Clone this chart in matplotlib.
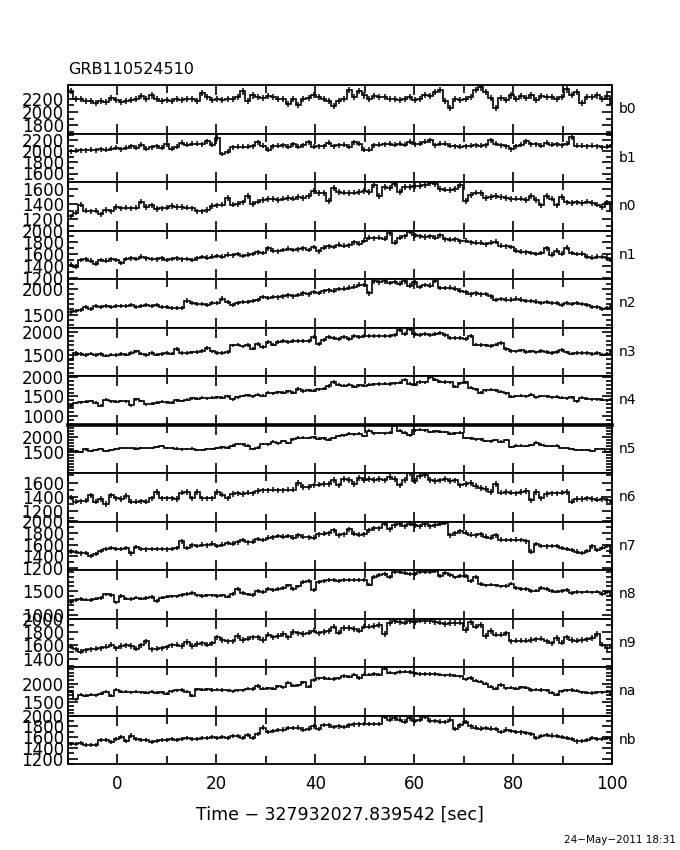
import numpy as np
import matplotlib
matplotlib.use("Agg")
import matplotlib.pyplot as plt
from matplotlib.ticker import FixedLocator, MultipleLocator

# ---------------- data ----------------
title = "GRB110524510"
xlabel = "Time \u2212 327932027.839542 [sec]"
datestamp = "24\u2212May\u22122011 18:31"
t_start = -10.0
bin_width = 1.024
x_ticks = [0, 20, 40, 60, 80, 100]

detectors = ["b0", "b1", "n0", "n1", "n2", "n3", "n4", "n5",
             "n6", "n7", "n8", "n9", "na", "nb"]

b0 = [2320, 2200, 2190, 2170, 2160, 2130, 2170, 2150, 2210, 2180,
      2150, 2170, 2180, 2200, 2240, 2190, 2250, 2200, 2160, 2180,
      2170, 2190, 2180, 2190, 2200, 2170, 2290, 2220, 2180, 2200,
      2180, 2200, 2190, 2220, 2310, 2160, 2250, 2230, 2210, 2240,
      2230, 2200, 2200, 2120, 2190, 2110, 2200, 2210, 2260, 2230,
      2200, 2170, 2090, 2160, 2190, 2330, 2220, 2320, 2250, 2200,
      2240, 2220, 2230, 2200, 2190, 2180, 2200, 2220, 2180, 2200,
      2260, 2240, 2300, 2330, 2160, 2060, 2200, 2180, 2200, 2220,
      2330, 2370, 2300, 2210, 2060, 2210, 2180, 2250, 2200, 2240,
      2210, 2250, 2180, 2240, 2220, 2230, 2200, 2220, 2340, 2260,
      2300, 2130, 2220, 2230, 2250, 2200, 2240, 2120]
b1 = [2000, 2010, 2020, 2020, 2030, 2020, 2040, 2030, 2050, 2060,
      2040, 2060, 2090, 2060, 2120, 2050, 2070, 2090, 2060, 2130,
      2050, 2080, 2150, 2120, 2140, 2140, 2130, 2180, 2120, 2240,
      1950, 1990, 2070, 2080, 2080, 2080, 2090, 2160, 2100, 2030,
      2090, 2100, 2110, 2080, 2130, 2080, 2110, 2160, 2080, 2090,
      2090, 2150, 2090, 2110, 2120, 2080, 2160, 2140, 2030, 2030,
      2110, 2120, 2130, 2140, 2120, 2140, 2120, 2170, 2130, 2140,
      2170, 2200, 2110, 2140, 2140, 2100, 2090, 2080, 2090, 2100,
      2110, 2100, 2110, 2200, 2140, 2110, 2090, 2040, 2090, 2120,
      2180, 2130, 2130, 2100, 2150, 2120, 2130, 2110, 2140, 2250,
      2100, 2100, 2090, 2100, 2090, 2070, 2080, 2110]
n0 = [1236, 1280, 1390, 1310, 1300, 1310, 1260, 1320, 1300, 1360,
      1340, 1350, 1340, 1350, 1430, 1360, 1380, 1330, 1340, 1350,
      1370, 1360, 1360, 1350, 1340, 1300, 1300, 1320, 1370, 1380,
      1390, 1480, 1390, 1400, 1420, 1500, 1400, 1430, 1450, 1460,
      1460, 1450, 1470, 1480, 1470, 1490, 1480, 1500, 1570, 1540,
      1540, 1440, 1610, 1560, 1550, 1540, 1550, 1560, 1570, 1560,
      1650, 1500, 1620, 1610, 1660, 1560, 1630, 1620, 1640, 1640,
      1650, 1680, 1660, 1600, 1590, 1580, 1600, 1650, 1440, 1520,
      1550, 1540, 1480, 1490, 1500, 1490, 1480, 1460, 1470, 1470,
      1450, 1500, 1450, 1380, 1500, 1470, 1380, 1490, 1420, 1410,
      1420, 1410, 1430, 1410, 1390, 1360, 1420, 1300]
n1 = [1425, 1390, 1500, 1510, 1490, 1440, 1500, 1490, 1510, 1500,
      1450, 1520, 1530, 1520, 1560, 1530, 1520, 1510, 1530, 1500,
      1520, 1530, 1510, 1520, 1500, 1530, 1550, 1540, 1560, 1570,
      1560, 1590, 1580, 1600, 1570, 1590, 1600, 1630, 1620, 1700,
      1660, 1650, 1670, 1690, 1670, 1680, 1700, 1670, 1720, 1650,
      1710, 1730, 1720, 1760, 1740, 1750, 1800, 1780, 1830, 1880,
      1870, 1880, 1860, 1950, 1790, 1880, 1900, 1980, 1920, 1900,
      1890, 1900, 1880, 1920, 1850, 1840, 1850, 1820, 1830, 1800,
      1790, 1790, 1770, 1790, 1810, 1740, 1730, 1720, 1660, 1640,
      1630, 1620, 1600, 1620, 1700, 1590, 1660, 1610, 1710, 1620,
      1600, 1610, 1560, 1540, 1560, 1550, 1540, 1480]
n2 = [1550, 1560, 1580, 1640, 1610, 1660, 1640, 1660, 1650, 1660,
      1670, 1660, 1680, 1650, 1670, 1680, 1660, 1690, 1650, 1640,
      1620, 1630, 1630, 1770, 1720, 1710, 1700, 1690, 1730, 1720,
      1810, 1740, 1690, 1730, 1740, 1740, 1760, 1780, 1840, 1820,
      1840, 1830, 1850, 1870, 1850, 1880, 1910, 1890, 1940, 1920,
      1950, 1970, 1960, 1990, 2000, 2020, 2040, 2080, 2070, 1910,
      2140, 2120, 2140, 2110, 2130, 2100, 2140, 2060, 2120, 2030,
      2070, 2060, 2150, 2010, 2010, 2020, 2000, 1960, 1930, 1890,
      1910, 1890, 1900, 1850, 1780, 1800, 1790, 1790, 1810, 1790,
      1760, 1760, 1750, 1730, 1740, 1720, 1730, 1690, 1730, 1700,
      1720, 1710, 1680, 1640, 1650, 1610, 1620, 1660]
n3 = [1390, 1540, 1510, 1490, 1520, 1490, 1510, 1480, 1500, 1490,
      1510, 1500, 1540, 1570, 1520, 1490, 1530, 1500, 1510, 1540,
      1520, 1620, 1540, 1530, 1550, 1560, 1580, 1640, 1570, 1540,
      1540, 1560, 1700, 1720, 1680, 1710, 1630, 1740, 1660, 1770,
      1720, 1780, 1790, 1780, 1800, 1790, 1800, 1800, 1880, 1730,
      1820, 1880, 1860, 1850, 1880, 1850, 1910, 1880, 1900, 1900,
      1910, 1900, 1910, 1900, 1920, 2030, 1960, 2060, 1950, 1920,
      1960, 1940, 1950, 1980, 1930, 1860, 1870, 1860, 1850, 1900,
      1720, 1710, 1700, 1690, 1720, 1760, 1620, 1580, 1570, 1590,
      1560, 1570, 1550, 1580, 1560, 1540, 1560, 1600, 1550, 1520,
      1530, 1540, 1530, 1510, 1540, 1500, 1520, 1580]
n4 = [1260, 1330, 1350, 1360, 1380, 1340, 1260, 1410, 1370, 1360,
      1380, 1370, 1270, 1420, 1380, 1300, 1310, 1340, 1360, 1350,
      1340, 1400, 1380, 1410, 1450, 1440, 1460, 1450, 1470, 1480,
      1460, 1500, 1420, 1480, 1510, 1530, 1500, 1540, 1520, 1590,
      1580, 1610, 1600, 1630, 1590, 1690, 1640, 1660, 1650, 1680,
      1700, 1770, 1870, 1800, 1780, 1800, 1750, 1790, 1780, 1800,
      1810, 1820, 1830, 1820, 1840, 1850, 1930, 1830, 1800, 1870,
      1860, 1990, 1930, 1880, 1870, 1860, 1750, 1840, 1860, 1720,
      1680, 1600, 1660, 1670, 1660, 1620, 1580, 1490, 1510, 1520,
      1500, 1540, 1480, 1510, 1500, 1480, 1490, 1470, 1450, 1480,
      1370, 1460, 1440, 1430, 1420, 1410, 1400, 1420]
n5 = [1550, 1520, 1500, 1590, 1540, 1560, 1610, 1530, 1560, 1600,
      1640, 1640, 1630, 1620, 1640, 1630, 1640, 1680, 1700, 1640,
      1630, 1620, 1590, 1600, 1620, 1580, 1560, 1610, 1600, 1640,
      1660, 1650, 1720, 1780, 1760, 1720, 1600, 1650, 1770, 1760,
      1850, 1790, 1870, 1800, 1930, 1990, 1990, 1980, 2000, 1950,
      1960, 1920, 1970, 2040, 2070, 2120, 2100, 2120, 2040, 2220,
      2130, 2140, 2130, 2150, 2400, 2220, 2160, 2060, 2240, 2250,
      2230, 2180, 2200, 2190, 2180, 2120, 2130, 2150, 1980, 1960,
      1930, 1930, 1880, 1860, 1900, 1850, 1900, 1680, 1720, 1720,
      1700, 1740, 1820, 1750, 1710, 1700, 1720, 1630, 1640, 1610,
      1560, 1570, 1580, 1540, 1600, 1610, 1500, 1540]
n6 = [1390, 1330, 1340, 1345, 1420, 1330, 1370, 1300, 1420, 1380,
      1370, 1410, 1330, 1330, 1340, 1330, 1380, 1470, 1380, 1380,
      1380, 1370, 1460, 1470, 1380, 1470, 1380, 1380, 1380, 1470,
      1430, 1380, 1440, 1450, 1440, 1460, 1450, 1480, 1490, 1490,
      1500, 1490, 1490, 1500, 1500, 1590, 1540, 1540, 1560, 1570,
      1580, 1580, 1640, 1560, 1650, 1640, 1580, 1660, 1640, 1650,
      1640, 1650, 1630, 1680, 1650, 1560, 1640, 1730, 1620, 1690,
      1700, 1640, 1620, 1630, 1650, 1620, 1630, 1560, 1580, 1590,
      1550, 1520, 1510, 1470, 1580, 1460, 1470, 1460, 1450, 1470,
      1480, 1350, 1470, 1380, 1440, 1450, 1450, 1460, 1470, 1330,
      1370, 1370, 1380, 1370, 1360, 1370, 1350, 1330]
n7 = [1480, 1470, 1450, 1460, 1410, 1440, 1490, 1530, 1540, 1530,
      1530, 1540, 1450, 1560, 1530, 1520, 1530, 1530, 1530, 1520,
      1530, 1540, 1660, 1540, 1590, 1580, 1600, 1590, 1620, 1580,
      1600, 1630, 1620, 1640, 1680, 1640, 1650, 1700, 1680, 1720,
      1730, 1750, 1740, 1750, 1720, 1760, 1740, 1730, 1720, 1780,
      1790, 1800, 1850, 1760, 1780, 1870, 1790, 1770, 1780, 1850,
      1880, 1880, 1960, 1870, 1940, 1950, 1920, 1960, 1940, 1920,
      1950, 1920, 1940, 1960, 1980, 1760, 1800, 1830, 1810, 1770,
      1760, 1780, 1740, 1720, 1760, 1690, 1680, 1680, 1690, 1680,
      1660, 1480, 1610, 1580, 1570, 1580, 1580, 1540, 1530, 1510,
      1480, 1460, 1490, 1570, 1510, 1540, 1580, 1460]
n8 = [1265, 1310, 1330, 1320, 1310, 1340, 1350, 1430, 1420, 1260,
      1400, 1340, 1330, 1360, 1340, 1350, 1370, 1290, 1360, 1380,
      1390, 1390, 1420, 1440, 1460, 1410, 1400, 1410, 1410, 1400,
      1410, 1380, 1440, 1550, 1460, 1430, 1420, 1500, 1480, 1540,
      1520, 1540, 1560, 1620, 1550, 1600, 1690, 1710, 1520, 1700,
      1720, 1730, 1740, 1710, 1740, 1740, 1740, 1740, 1730, 1640,
      1810, 1840, 1870, 1800, 1900, 1900, 1890, 1870, 1870, 1900,
      1910, 1900, 1920, 1820, 1880, 1840, 1790, 1820, 1830, 1710,
      1800, 1650, 1620, 1640, 1620, 1600, 1610, 1660, 1560, 1550,
      1540, 1500, 1510, 1560, 1540, 1500, 1490, 1500, 1520, 1460,
      1480, 1470, 1490, 1470, 1490, 1440, 1470, 1400]
n9 = [1580, 1540, 1510, 1530, 1540, 1550, 1560, 1580, 1610, 1560,
      1590, 1600, 1590, 1550, 1600, 1660, 1540, 1550, 1560, 1570,
      1600, 1610, 1590, 1650, 1590, 1620, 1630, 1610, 1630, 1720,
      1680, 1660, 1660, 1740, 1680, 1700, 1720, 1720, 1680, 1760,
      1720, 1740, 1770, 1720, 1800, 1780, 1770, 1790, 1820, 1780,
      1800, 1810, 1880, 1790, 1860, 1860, 1840, 1820, 1880, 1880,
      1890, 1900, 1770, 1930, 1960, 1950, 1940, 1960, 1950, 1970,
      1960, 1960, 1950, 1940, 1920, 1930, 1930, 1940, 1830, 1950,
      1880, 1900, 1740, 1810, 1760, 1760, 1780, 1660, 1670, 1670,
      1670, 1680, 1690, 1700, 1660, 1630, 1710, 1640, 1720, 1680,
      1670, 1680, 1690, 1710, 1770, 1610, 1560, 1600]
na = [1790, 1580, 1700, 1680, 1700, 1690, 1730, 1780, 1680, 1840,
      1780, 1780, 1770, 1780, 1770, 1760, 1780, 1760, 1770, 1730,
      1800, 1820, 1830, 1780, 1680, 1850, 1840, 1850, 1830, 1840,
      1830, 1820, 1800, 1820, 1820, 1870, 1860, 1940, 1870, 1880,
      1870, 1930, 1910, 2030, 1950, 1960, 2040, 1920, 2100, 2150,
      2160, 2140, 2130, 2150, 2210, 2190, 2250, 2160, 2250, 2250,
      2260, 2250, 2410, 2300, 2280, 2320, 2330, 2320, 2280, 2270,
      2270, 2260, 2270, 2250, 2230, 2240, 2220, 2200, 2120, 2160,
      2080, 2060, 2000, 1920, 1870, 1970, 1880, 1890, 1870, 1900,
      1890, 1830, 1840, 1830, 1820, 1760, 1700, 1800, 1820, 1830,
      1810, 1770, 1760, 1750, 1770, 1770, 1790, 1700]
nb = [1480, 1480, 1490, 1450, 1460, 1450, 1540, 1550, 1510, 1560,
      1600, 1530, 1630, 1560, 1540, 1550, 1510, 1530, 1540, 1540,
      1560, 1550, 1570, 1580, 1560, 1570, 1580, 1590, 1600, 1590,
      1600, 1580, 1620, 1620, 1590, 1640, 1580, 1660, 1780, 1700,
      1720, 1730, 1740, 1770, 1770, 1780, 1740, 1760, 1800, 1750,
      1830, 1820, 1790, 1800, 1790, 1820, 1840, 1840, 1850, 1850,
      1850, 1850, 1980, 1930, 1950, 1930, 1890, 1950, 1900, 1930,
      1980, 1910, 1900, 1890, 1880, 1930, 1750, 1820, 1880, 1800,
      1780, 1760, 1770, 1760, 1750, 1700, 1740, 1720, 1700, 1690,
      1680, 1660, 1590, 1620, 1640, 1630, 1620, 1600, 1580, 1560,
      1520, 1530, 1550, 1590, 1560, 1560, 1580, 1550]

series = {"b0": b0, "b1": b1, "n0": n0, "n1": n1, "n2": n2, "n3": n3,
          "n4": n4, "n5": n5, "n6": n6, "n7": n7, "n8": n8, "n9": n9,
          "na": na, "nb": nb}

# y-axis tick labels per panel
y_tick_labels = {
    "b0": [1800, 2000, 2200],
    "b1": [1600, 1800, 2000, 2200],
    "n0": [1200, 1400, 1600],
    "n1": [1200, 1400, 1600, 1800, 2000],
    "n2": [1500, 2000],
    "n3": [1500, 2000],
    "n4": [1000, 1500, 2000],
    "n5": [1500, 2000],
    "n6": [1200, 1400, 1600],
    "n7": [1200, 1400, 1600, 1800, 2000],
    "n8": [1000, 1500],
    "n9": [1400, 1600, 1800, 2000],
    "na": [1500, 2000],
    "nb": [1200, 1400, 1600, 1800, 2000],
}

# ---------------- layout / style ----------------
y_limits = {
    "b0": (1680, 2405), "b1": (1447, 2320), "n0": (1045, 1690),
    "n1": (1180, 2000), "n2": (1250, 2187), "n3": (1030, 2095),
    "n4": (775, 2026), "n5": (795, 2430), "n6": (1056, 1733),
    "n7": (1165, 2000), "n8": (915, 1950), "n9": (1280, 2000),
    "na": (1140, 2455), "nb": (1100, 2005),
}

plt.rcParams["font.family"] = ["DejaVu Sans"]
W, H = 680, 850
fig = plt.figure(figsize=(W / 100, H / 100), dpi=100)

left_px, right_px, top_px, bot_px = 68, 612, 85, 764
n = len(detectors)
ph = (bot_px - top_px) / n

for i, det in enumerate(detectors):
    top = top_px + i * ph
    ax = fig.add_axes([left_px / W, 1 - (top + ph) / H,
                       (right_px - left_px) / W, ph / H])
    vals = np.asarray(series[det], dtype=float)
    edges = t_start + bin_width * np.arange(len(vals) + 1)
    centers = 0.5 * (edges[:-1] + edges[1:])
    ax.stairs(vals, edges, baseline=None, color="black", lw=1.2)
    ax.errorbar(centers, vals, yerr=np.sqrt(vals / bin_width), fmt="none",
                ecolor="black", elinewidth=1.1, capsize=0)
    ax.set_xlim(-10, 100)
    ax.set_ylim(*y_limits[det])
    ax.yaxis.set_major_locator(FixedLocator(y_tick_labels[det]))
    ax.yaxis.set_minor_locator(MultipleLocator(100))
    ax.xaxis.set_major_locator(FixedLocator(x_ticks))
    ax.xaxis.set_minor_locator(MultipleLocator(10))
    ax.tick_params(axis="both", which="both", direction="in",
                   top=True, bottom=True, left=True, right=True,
                   width=1.2, colors="black")
    ax.tick_params(axis="x", which="major", length=7)
    ax.tick_params(axis="x", which="minor", length=6)
    ax.tick_params(axis="y", which="major", length=7, labelsize=12, pad=3)
    ax.tick_params(axis="y", which="minor", length=4)
    for s in ax.spines.values():
        s.set_linewidth(1.3)
    if det == "n5":
        ax.spines["top"].set_linewidth(2.6)
    if i < n - 1:
        ax.tick_params(axis="x", labelbottom=False)
    else:
        ax.tick_params(axis="x", labelsize=12, pad=8)
        ax.set_xlabel(xlabel, fontsize=12.5, labelpad=9)
    ax.text(1.012, 0.5, det, transform=ax.transAxes, fontsize=10,
            ha="left", va="center")
    ax.set_facecolor("white")

fig.text(left_px / W, 1 - 70 / H, title, fontsize=11.5, ha="left",
         va="center")
fig.text(676 / W, 1 - 840 / H, datestamp, fontsize=7.5, ha="right",
         va="center")

fig.savefig("out.png", dpi=100, facecolor="white")
